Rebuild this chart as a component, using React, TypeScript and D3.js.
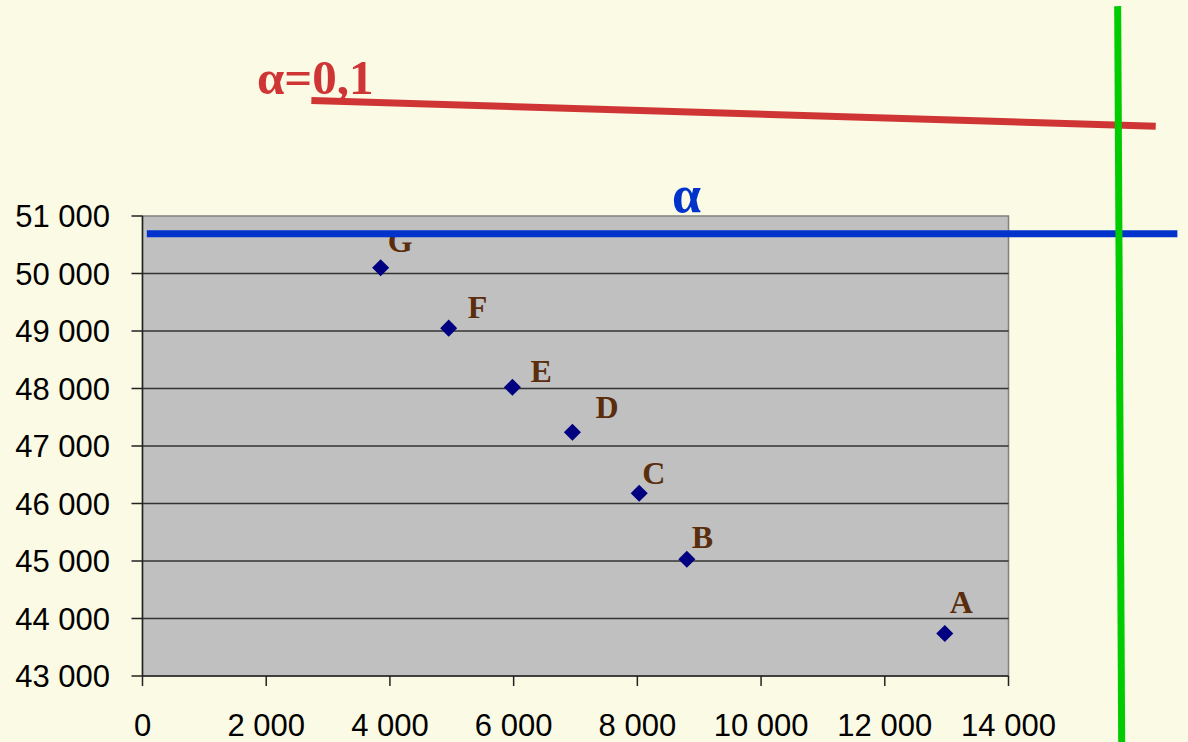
import React from "react";
import * as d3 from "d3";

const pointLabels = ["A", "B", "C", "D", "E", "F", "G"];
const xValues = [12970, 8800, 8030, 6950, 5980, 4950, 3850];
const yValues = [43740, 45030, 46180, 47240, 48020, 49050, 50100];
const xTicks = [0, 2000, 4000, 6000, 8000, 10000, 12000, 14000];
const yTicks = [43000, 44000, 45000, 46000, 47000, 48000, 49000, 50000, 51000];
// label offsets (px) relative to each point
const labelDx = [5, 5, 3, 23, 18, 19, 7];
const labelDy = [-20, -11, -9, -14, -5, -10, -16];

// annotation lines in data coordinates
const redLine = [[2730, 53010], [16380, 52560]];
const blueLine = [[70, 50690], [16730, 50690]];
const greenLine = [[15765, 54650], [15830, 41800]];
const redLabel = { text: "α=0,1", x: 1850, y: 53130 };
const blueLabel = { text: "α", x: 8560, y: 51070 };

const fmt = (v: number) => d3.format(",")(v).replace(/,/g, " ");

export default function App() {
  const W = 1188, H = 742;
  const x = d3.scaleLinear().domain([0, 14000]).range([142.5, 1008.5]);
  const y = d3.scaleLinear().domain([43000, 51000]).range([676, 216]);
  const line = d3.line<number[]>().x(d => x(d[0])).y(d => y(d[1]));
  const sans = "'Liberation Sans', Arial, sans-serif";
  const serif = "'Liberation Serif', 'Times New Roman', serif";
  const [x0, x1] = x.range();
  const [y0, y1] = y.range();
  const marker = d3.symbol().type(d3.symbolSquare).size(145)() || "";
  return (
    <svg width={W} height={H} style={{ position: "absolute", left: 0, top: 0 }}>
      <rect width={W} height={H} fill="#FBFAE4" />
      <rect x={x0} y={y1} width={x1 - x0} height={y0 - y1} fill="#C0C0C0" stroke="#808080" strokeWidth={1.5} />
      {yTicks.map(t => (
        <g key={t}>
          {t > 43000 && t < 51000 && (
            <line x1={x0} x2={x1} y1={y(t)} y2={y(t)} stroke="#333" strokeWidth={1.5} />
          )}
          <line x1={x0 - 11} x2={x0} y1={y(t)} y2={y(t)} stroke="#222" strokeWidth={1.5} />
          <text x={110} y={y(t) + 11} textAnchor="end" fontFamily={sans} fontSize={31} fill="#000">{fmt(t)}</text>
        </g>
      ))}
      <line x1={x0} x2={x0} y1={y1} y2={y0} stroke="#222" strokeWidth={1.5} />
      <line x1={x0} x2={x1} y1={y0} y2={y0} stroke="#222" strokeWidth={1.5} />
      {xTicks.map(t => (
        <g key={t}>
          <line x1={x(t)} x2={x(t)} y1={y0} y2={y0 + 10} stroke="#222" strokeWidth={1.5} />
          <text x={x(t)} y={736} textAnchor="middle" fontFamily={sans} fontSize={31} fill="#000">{fmt(t)}</text>
        </g>
      ))}
      {xValues.map((xv, i) => (
        <g key={pointLabels[i]}>
          <path d={marker} transform={`translate(${x(xv)},${y(yValues[i])}) rotate(45)`} fill="#000080" />
          <text x={x(xv) + labelDx[i]} y={y(yValues[i]) + labelDy[i]} fontFamily={serif} fontWeight="bold" fontSize={32} fill="#5A2D0C">{pointLabels[i]}</text>
        </g>
      ))}
      <path d={line(redLine) || ""} stroke="#D03535" strokeWidth={7} fill="none" />
      <path d={line(blueLine) || ""} stroke="#0033CC" strokeWidth={7} fill="none" />
      <path d={line(greenLine) || ""} stroke="#00CC00" strokeWidth={7} fill="none" />
      <text x={x(redLabel.x)} y={y(redLabel.y)} fontFamily={serif} fontWeight="bold" fontSize={49} fill="#D03535">{redLabel.text}</text>
      <text x={x(blueLabel.x)} y={y(blueLabel.y)} fontFamily={serif} fontWeight="bold" fontSize={52} fill="#0033CC">{blueLabel.text}</text>
    </svg>
  );
}
